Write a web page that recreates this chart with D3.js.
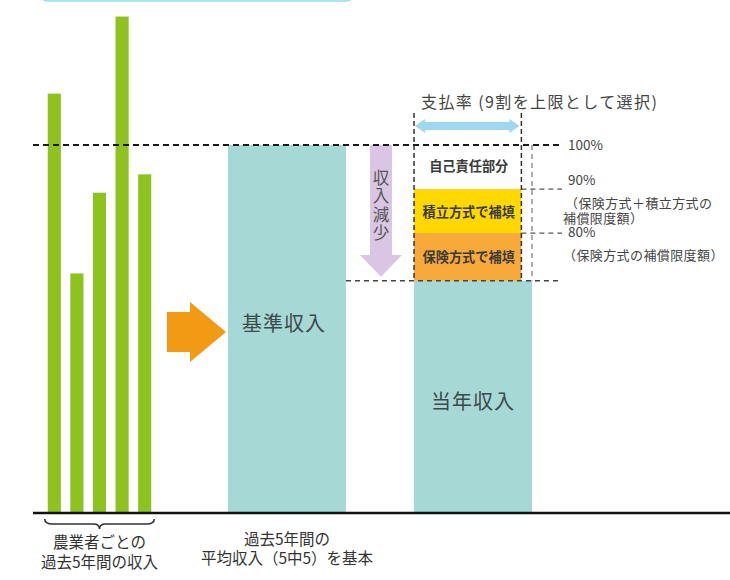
<!DOCTYPE html>
<html>
<head>
<meta charset="utf-8">
<script src="https://cdn.jsdelivr.net/npm/d3@7.9.0/dist/d3.min.js"></script>
<style>
  body { margin: 0; background: #fff; }
  svg { display: block; font-family: "Noto Sans CJK JP", "Noto Sans", sans-serif; }
</style>
</head>
<body>
<svg id="chart" width="730" height="580"></svg>
<script>
// past 5 years of a farmer's income (relative to the base income = 100)
const years = ["1年目", "2年目", "3年目", "4年目", "5年目"];
const pastIncome = [114, 65, 87, 135, 92];

// the two big columns
const columns = ["基準収入", "当年収入"];
const columnValues = [100, 63];

// levels of the payout box: 100%, 90%, 80%, current year income
const levelValues = [100, 88, 76, 63];
const levelLabels = ["100%", "90%", "80%"];
const levelNotes = [[], ["（保険方式＋積立方式の", "補償限度額）"], ["（保険方式の補償限度額）"]];
const blockLabels = ["自己責任部分", "積立方式で補填", "保険方式で補填"];

const green = "#8dc21f";
const teal = "#a6d8d6";
const blockColors = ["#ffffff", "#ffd800", "#f7a93a"];

const svg = d3.select("#chart");

const y = d3.scaleLinear().domain([0, 100]).range([512, 145]);

const xPast = d3.scaleBand().domain(years).range([43, 156])
    .paddingInner(0.42).paddingOuter(0.21);

const xCol = d3.scaleBand().domain(columns).range([228, 532])
    .paddingInner(0.366).paddingOuter(0);

// light frame of the (cut off) title box at the very top
svg.append("rect")
    .attr("x", 40).attr("y", -30)
    .attr("width", 314).attr("height", 31)
    .attr("rx", 8)
    .attr("fill", "none")
    .attr("stroke", "#8fdcec")
    .attr("stroke-width", 1.5);

// green bars
svg.selectAll(".past")
    .data(pastIncome)
    .join("rect")
    .attr("class", "past")
    .attr("x", (d, i) => xPast(years[i]))
    .attr("width", xPast.bandwidth())
    .attr("y", d => y(d))
    .attr("height", d => y(0) - y(d))
    .attr("fill", green);

// the two teal columns
svg.selectAll(".col")
    .data(columnValues)
    .join("rect")
    .attr("class", "col")
    .attr("x", (d, i) => xCol(columns[i]))
    .attr("width", xCol.bandwidth())
    .attr("y", d => y(d))
    .attr("height", d => y(0) - y(d))
    .attr("fill", teal);

// payout box (left part of the current-year column)
const boxL = xCol(columns[1]);
const boxR = boxL + xCol.bandwidth() * 0.91;
const colR = xCol(columns[1]) + xCol.bandwidth();
const lineEnd = 562;

blockLabels.forEach((lab, i) => {
    svg.append("rect")
        .attr("x", boxL).attr("width", boxR - boxL)
        .attr("y", y(levelValues[i])).attr("height", y(levelValues[i + 1]) - y(levelValues[i]))
        .attr("fill", blockColors[i]);
    svg.append("text")
        .attr("x", (boxL + boxR) / 2 + 1)
        .attr("y", (y(levelValues[i]) + y(levelValues[i + 1])) / 2 + (i == 0 ? -2 : 0))
        .attr("text-anchor", "middle")
        .attr("dominant-baseline", "central")
        .attr("font-size", 13.2)
        .attr("font-weight", "bold")
        .attr("fill", "#3a3a3a")
        .text(lab);
});

// purple "income decrease" arrow
const ax = 381;
const arrowPath = d3.path();
arrowPath.moveTo(ax - 11, y(100));
arrowPath.lineTo(ax + 11, y(100));
arrowPath.lineTo(ax + 11, 255);
arrowPath.lineTo(ax + 21, 255);
arrowPath.lineTo(ax, y(levelValues[3]) - 4);
arrowPath.lineTo(ax - 21, 255);
arrowPath.lineTo(ax - 11, 255);
arrowPath.closePath();
svg.append("path").attr("d", arrowPath.toString()).attr("fill", "#dac6e4");

// vertical label along the arrow
svg.append("text")
    .attr("x", ax).attr("y", 169)
    .attr("writing-mode", "vertical-rl")
    .attr("font-size", 16.5)
    .attr("letter-spacing", 2)
    .attr("fill", "#555")
    .text("収入減少");

// dashed guide lines
const dash = (x1, y1, x2, y2, color, w, pattern) =>
    svg.append("line")
        .attr("x1", x1).attr("y1", y1).attr("x2", x2).attr("y2", y2)
        .attr("stroke", color).attr("stroke-width", w)
        .attr("stroke-dasharray", pattern);

dash(33, y(100), lineEnd, y(100), "#1a1a1a", 2.2, "6,4");
dash(boxR, y(levelValues[1]), lineEnd, y(levelValues[1]), "#555", 1.3, "5,4");
dash(boxR, y(levelValues[2]), lineEnd, y(levelValues[2]), "#555", 1.3, "5,4");
dash(xCol(columns[0]) + xCol.bandwidth(), y(levelValues[3]), lineEnd, y(levelValues[3]), "#444", 1.6, "5,4");
dash(boxL, 113, boxL, y(levelValues[3]), "#333", 1.5, "5,3");
dash(boxR, 113, boxR, y(levelValues[3]), "#333", 1.5, "5,3");
dash(colR, y(100), colR, y(levelValues[3]), "#777", 1.2, "5,4");

// blue double arrow (payout rate)
const ba = d3.path();
const by = 126, bl = boxL + 1, br = boxR - 2;
ba.moveTo(bl, by);
ba.lineTo(bl + 10, by - 7);
ba.lineTo(bl + 10, by - 4);
ba.lineTo(br - 10, by - 4);
ba.lineTo(br - 10, by - 7);
ba.lineTo(br, by);
ba.lineTo(br - 10, by + 7);
ba.lineTo(br - 10, by + 4);
ba.lineTo(bl + 10, by + 4);
ba.lineTo(bl + 10, by + 7);
ba.closePath();
svg.append("path").attr("d", ba.toString()).attr("fill", "#9fd6f0");

svg.append("text")
    .attr("x", 421).attr("y", 101)
    .attr("dominant-baseline", "central")
    .attr("font-size", 16)
    .attr("letter-spacing", 1.4)
    .attr("fill", "#444")
    .text("支払率 (9割を上限として選択)");

// level labels on the right, with their notes, as one block of text
const levelOffsets = [0, -9, -1];
const rightText = svg.append("text")
    .attr("fill", "#444");
levelLabels.forEach((lab, i) => {
    const ly = y(levelValues[i]) + levelOffsets[i];
    rightText.append("tspan")
        .attr("x", 568).attr("y", ly + 4.5)
        .attr("font-size", 13.5)
        .text(lab);
    levelNotes[i].forEach((note, k) => {
        rightText.append("tspan")
            .attr("x", note.startsWith("（") ? (k == 0 && i == 1 ? 565 : 563) : 563)
            .attr("y", ly + 23 + k * 15 + 4.5)
            .attr("font-size", 13)
            .attr("letter-spacing", 0.4)
            .text(note);
    });
});

// column labels
svg.append("text")
    .attr("x", xCol(columns[0]) + 14).attr("y", 322)
    .attr("dominant-baseline", "central")
    .attr("font-size", 20)
    .attr("letter-spacing", 1)
    .attr("fill", "#3d4a4a")
    .text(columns[0]);
svg.append("text")
    .attr("x", xCol(columns[1]) + xCol.bandwidth() / 2).attr("y", 400)
    .attr("text-anchor", "middle")
    .attr("dominant-baseline", "central")
    .attr("font-size", 20)
    .attr("letter-spacing", 1)
    .attr("fill", "#3d4a4a")
    .text(columns[1]);

// orange arrow
const oa = d3.path();
const oy = 332;
oa.moveTo(167, oy - 20);
oa.lineTo(190, oy - 20);
oa.lineTo(190, oy - 30);
oa.lineTo(226, oy);
oa.lineTo(190, oy + 30);
oa.lineTo(190, oy + 20);
oa.lineTo(167, oy + 20);
oa.closePath();
svg.append("path").attr("d", oa.toString()).attr("fill", "#f39a14");

// baseline
svg.append("line")
    .attr("x1", 33).attr("x2", 730)
    .attr("y1", y(0) + 1).attr("y2", y(0) + 1)
    .attr("stroke", "#111").attr("stroke-width", 2.5);

// brace under the green bars
const bx0 = xPast(years[0]) - 3, bx1 = xPast(years[4]) + xPast.bandwidth() + 3, bm = (bx0 + bx1) / 2;
const brace = d3.path();
brace.moveTo(bx0, 519);
brace.quadraticCurveTo(bx0, 524, bx0 + 8, 524);
brace.lineTo(bm - 6, 524);
brace.quadraticCurveTo(bm, 524, bm, 529);
brace.quadraticCurveTo(bm, 524, bm + 6, 524);
brace.lineTo(bx1 - 8, 524);
brace.quadraticCurveTo(bx1, 524, bx1, 519);
svg.append("path").attr("d", brace.toString())
    .attr("fill", "none").attr("stroke", "#333").attr("stroke-width", 1.6);

const bottom = [
    [["農業者ごとの", "過去5年間の収入"], bm, 542, 20],
    [["過去5年間の", "平均収入（5中5）を基本"], 287, 539, 19]
];
bottom.forEach(b => {
    const t = svg.append("text")
        .attr("text-anchor", "middle")
        .attr("font-size", 15.5)
        .attr("fill", "#333");
    b[0].forEach((line, k) => {
        t.append("tspan")
            .attr("x", b[1]).attr("y", b[2] + k * b[3] + 5.5)
            .text(line);
    });
});
</script>
</body>
</html>
